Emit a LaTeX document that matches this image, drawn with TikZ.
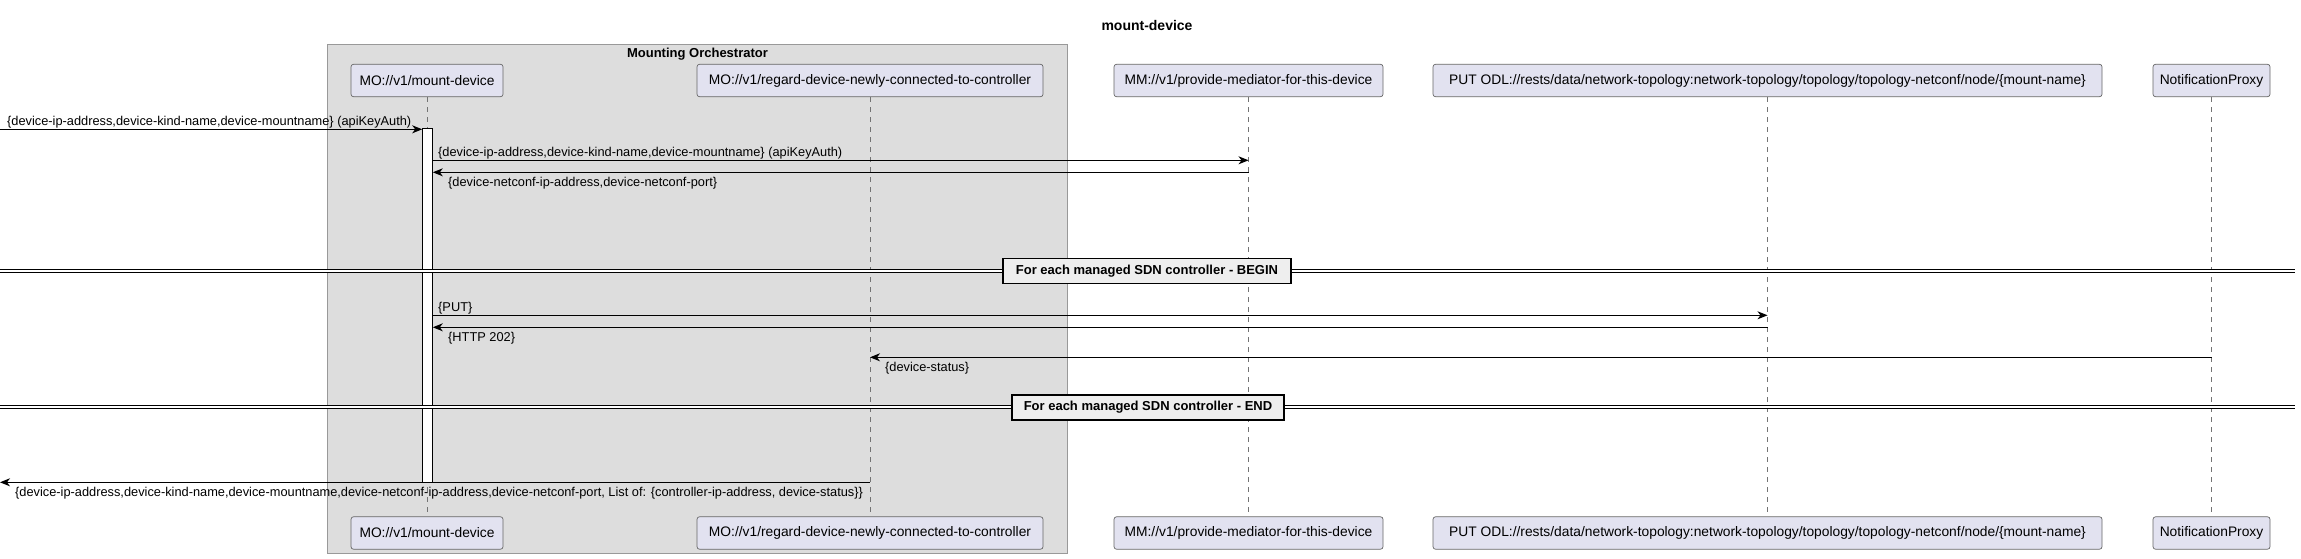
\documentclass[tikz,border=0pt]{standalone}
\usepackage{fontspec}
\setmainfont{Liberation Sans}
\usetikzlibrary{arrows.meta}
\definecolor{partfill}{HTML}{E2E2F0}
\definecolor{groupfill}{HTML}{DDDDDD}
\definecolor{sepfill}{HTML}{EEEEEE}

\begin{document}
\begin{tikzpicture}[
		x=1pt, y=-1pt,
		part/.style={draw=black!60, line width=0.7pt, fill=partfill, rounded corners=2.5pt,
			minimum height=32.4pt, inner sep=0pt, font=\fontsize{13.8}{16}\selectfont},
		life/.style={draw=black!55, line width=1pt, dash pattern=on 5pt off 5pt},
		actbar/.style={draw=black, fill=white, line width=1pt, minimum width=9.6pt, inner sep=0pt},
		msg/.style={draw=black, line width=1pt, -{Stealth[length=10pt,width=8pt,inset=3pt]}},
		lbl/.style={inner sep=0pt, anchor=base west, font=\fontsize{12.8}{15}\selectfont},
		sepline/.style={draw=black, line width=1pt, double=white, double distance=2.4pt},
		sepbox/.style={draw=black, line width=1.6pt, fill=sepfill, minimum height=25pt,
			inner sep=0pt, font=\bfseries\fontsize{13}{15}\selectfont}
	]
	\useasboundingbox (0,0) rectangle (2301,559);
	\node[font=\bfseries\fontsize{14}{16}\selectfont] (title) at (1147,25.7) {mount-device};

	% group box
	\draw[draw=black!40, line width=1pt, fill=groupfill] (327.6,44.3) rectangle (1067.3,553.5);
	\node[font=\bfseries\fontsize{13}{15}\selectfont] (orchlbl) at (697.5,54.5) {Mounting Orchestrator};

	% participants
	\node[part, minimum width=152pt] (mo) at (427,80.5) {MO://v1/mount-device};
	\node[part, minimum width=346pt] (regard) at (870,80.5) {MO://v1/regard-device-newly-connected-to-controller};
	\node[part, minimum width=269pt] (mm) at (1248.5,80.5) {MM://v1/provide-mediator-for-this-device};
	\node[part, minimum width=669pt] (odl) at (1767.5,80.5) {PUT ODL://rests/data/network-topology:network-topology/topology/topology-netconf/node/\{mount-name\}};
	\node[part, minimum width=117pt] (np) at (2211.5,80.5) {NotificationProxy};

	\node[part, minimum width=152pt] (mo-b) at (427,533) {MO://v1/mount-device};
	\node[part, minimum width=346pt] (regard-b) at (870,533) {MO://v1/regard-device-newly-connected-to-controller};
	\node[part, minimum width=269pt] (mm-b) at (1248.5,533) {MM://v1/provide-mediator-for-this-device};
	\node[part, minimum width=669pt] (odl-b) at (1767.5,533) {PUT ODL://rests/data/network-topology:network-topology/topology/topology-netconf/node/\{mount-name\}};
	\node[part, minimum width=117pt] (np-b) at (2211.5,533) {NotificationProxy};

	\foreach \p in {mo,regard,mm,odl,np}
		\draw[life] (\p.south) -- (\p-b.north);

	\node[actbar, minimum height=353pt] (act) at (427.5,305.5) {};

	% messages
	\coordinate (in) at (0,129.3);
	\draw[msg] (in) -- (act.west |- in);
	\node[lbl] (l-in) at (7,125.3) {\{device-ip-address,device-kind-name,device-mountname\} (apiKeyAuth)};

	\draw[msg] (act.east |- 0,160.3) -- (mm |- 0,160.3);
	\node[lbl] (l-req) at (438,156.3) {\{device-ip-address,device-kind-name,device-mountname\} (apiKeyAuth)};
	\draw[msg] (mm |- 0,172.3) -- (act.east |- 0,172.3);
	\node[lbl] (l-resp) at (448,186.8) {\{device-netconf-ip-address,device-netconf-port\}};

	\coordinate (beg-w) at (0,270.8);
	\coordinate (beg-e) at (2295,270.8);
	\draw[sepline] (beg-w) -- (beg-e);
	\node[sepbox, minimum width=288pt] (begin) at (1147,270.8) {For each managed SDN controller - BEGIN};

	\draw[msg] (act.east |- 0,315.3) -- (odl |- 0,315.3);
	\node[lbl] (l-put) at (438,311.3) {\{PUT\}};
	\draw[msg] (odl |- 0,327.3) -- (act.east |- 0,327.3);
	\node[lbl] (l-http) at (448,341.8) {\{HTTP 202\}};
	\draw[msg] (np |- 0,357.3) -- (regard |- 0,357.3);
	\node[lbl] (l-status) at (885,371.8) {\{device-status\}};

	\coordinate (end-w) at (0,407.2);
	\coordinate (end-e) at (2295,407.2);
	\draw[sepline] (end-w) -- (end-e);
	\node[sepbox, minimum width=272pt] (end) at (1148,407.2) {For each managed SDN controller - END};

	\coordinate (out) at (0,482.3);
	\draw[msg] (regard |- out) -- (out);
	\node[lbl] (l-out) at (15,496.8) {\{device-ip-address,device-kind-name,device-mountname,device-netconf-ip-address,device-netconf-port, List of: \{controller-ip-address, device-status\}\}};
\end{tikzpicture}
\end{document}
